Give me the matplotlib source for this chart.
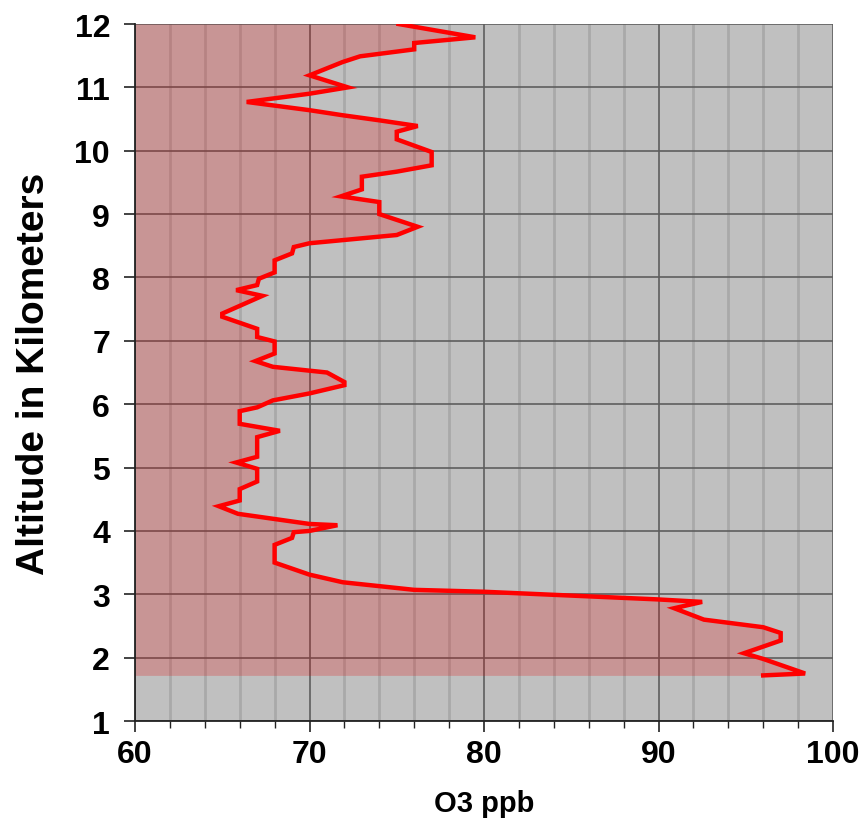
import matplotlib
matplotlib.use('Agg')
import matplotlib.pyplot as plt
from matplotlib.ticker import MultipleLocator

# ozone sounding: altitude (km) and O3 mixing ratio (ppb), top to bottom
altitude_km = [12.00, 11.79, 11.70, 11.60, 11.49, 11.40, 11.19, 11.00, 10.90, 10.77,
               10.64, 10.56, 10.48, 10.39, 10.30, 10.18, 9.98, 9.77, 9.67, 9.59,
               9.39, 9.28, 9.19, 9.00, 8.80, 8.67, 8.54, 8.48, 8.38, 8.27,
               8.08, 7.98, 7.88, 7.80, 7.71, 7.43, 7.38, 7.19, 7.06, 6.99,
               6.80, 6.68, 6.59, 6.50, 6.35, 6.30, 6.17, 6.06, 5.95, 5.89,
               5.69, 5.58, 5.48, 5.17, 5.08, 4.98, 4.78, 4.66, 4.48, 4.39,
               4.27, 4.11, 4.09, 4.00, 3.98, 3.89, 3.78, 3.50, 3.31, 3.19,
               3.07, 3.04, 2.92, 2.88, 2.78, 2.60, 2.48, 2.39, 2.27, 2.07,
               1.98, 1.75, 1.72]
o3_ppb = [75.1, 79.5, 76.0, 76.0, 72.9, 71.9, 70.0, 72.2, 70.0, 66.4,
          70.0, 71.9, 74.0, 76.2, 75.0, 75.0, 77.0, 77.0, 75.0, 73.0,
          73.0, 71.8, 74.0, 74.0, 76.2, 75.0, 70.0, 69.1, 69.0, 68.0,
          68.0, 67.1, 67.0, 65.8, 67.3, 65.0, 65.0, 67.0, 67.0, 68.0,
          68.0, 66.9, 67.9, 71.0, 72.0, 72.0, 70.0, 67.9, 67.0, 66.0,
          66.0, 68.3, 67.0, 67.0, 65.8, 67.0, 67.0, 66.0, 66.0, 64.8,
          65.9, 70.0, 71.6, 70.0, 69.1, 69.0, 68.0, 68.0, 70.0, 71.9,
          76.0, 80.0, 89.9, 92.5, 90.9, 92.6, 96.0, 97.0, 97.0, 94.9,
          96.0, 98.4, 96.0]

x_ticks = [60, 70, 80, 90, 100]
y_ticks = list(range(1, 13))

plt.rcParams['font.family'] = ['Liberation Sans', 'DejaVu Sans']
plt.rcParams['font.weight'] = 'bold'

fig = plt.figure(figsize=(8.61, 8.28), dpi=100)
ax = fig.add_axes([0.1568, 0.128, 0.8107, 0.8418])
ax.set_facecolor('#c0c0c0')

ax.set_xlim(60, 100)
ax.set_ylim(1, 12)
ax.set_xticks(x_ticks)
ax.set_yticks(y_ticks)
ax.xaxis.set_minor_locator(MultipleLocator(2))

ax.grid(which='minor', axis='x', color='#a9a9a9', linewidth=2.0, zorder=0)
ax.grid(which='major', axis='both', color='#5e5e5e', linewidth=1.2, zorder=0)
ax.set_axisbelow(True)

ax.fill_betweenx(altitude_km, 60, o3_ppb, color='#e80000', alpha=0.22,
                 linewidth=0, zorder=1)
ax.plot(o3_ppb, altitude_km, color='#ff0000', linewidth=3.2,
        solid_joinstyle='miter', zorder=3)

ax.tick_params(axis='both', which='major', labelsize=23, direction='out',
               length=8, width=1.2, color='#222222')
ax.tick_params(axis='x', which='minor', direction='out', length=5,
               width=1.0, color='#222222')
ax.tick_params(axis='x', pad=5)
ax.tick_params(axis='y', pad=10)
for lbl in ax.get_xticklabels() + ax.get_yticklabels():
    lbl.set_fontweight('bold')

for side in ['left', 'bottom']:
    ax.spines[side].set_color('#222222')
    ax.spines[side].set_linewidth(1.3)
for side in ['top', 'right']:
    ax.spines[side].set_visible(False)

ax.set_xlabel('O3 ppb', fontsize=21, fontweight='bold', labelpad=14)
ax.set_ylabel('Altitude in Kilometers', fontsize=28, fontweight='bold', labelpad=16)

fig.savefig('out.png', dpi=100)
